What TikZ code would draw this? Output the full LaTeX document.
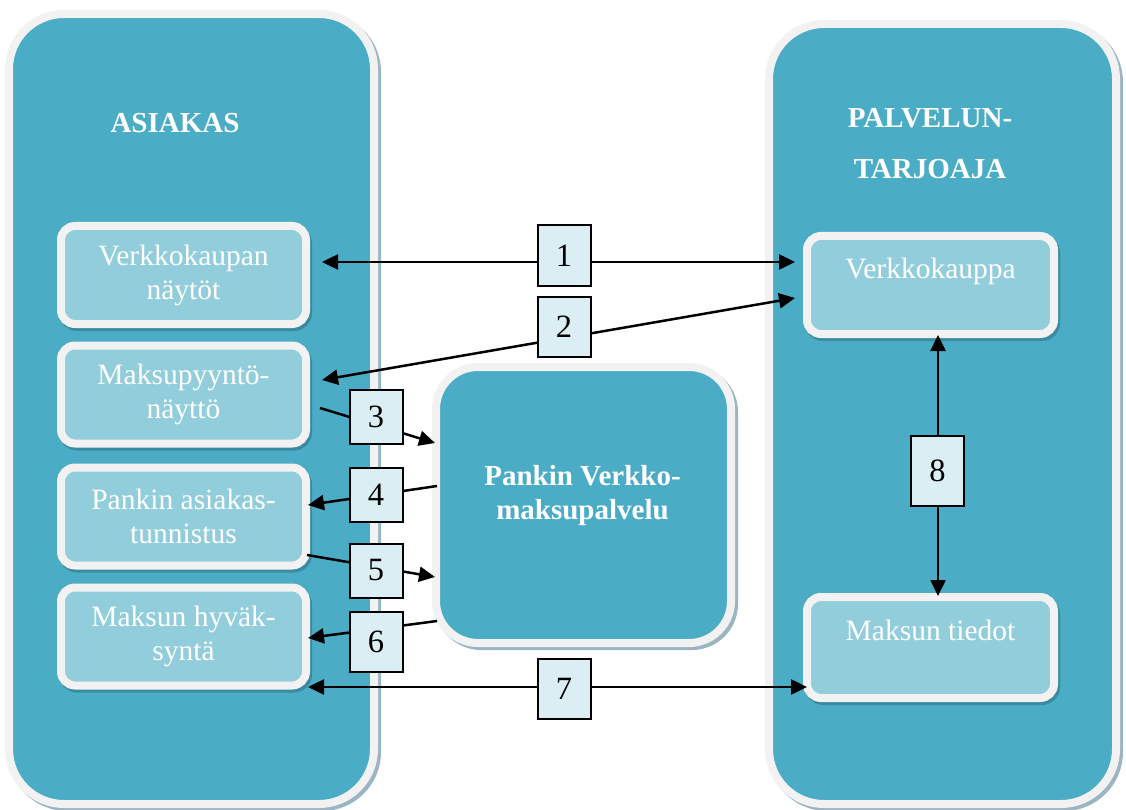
\documentclass[tikz,border=0pt]{standalone}
\usepackage{fontspec}
\setmainfont{Liberation Serif}
\usetikzlibrary{arrows.meta,shadows}
\definecolor{panelblue}{HTML}{4BACC6}
\definecolor{lightbox}{HTML}{92CDDC}
\definecolor{rimwhite}{HTML}{F2F2F2}
\definecolor{numfill}{HTML}{DAEEF3}
\definecolor{panelshadow}{HTML}{9BB6C2}
\definecolor{boxshadow}{HTML}{3A8BA1}
\tikzset{
  panel/.style={rectangle, rounded corners=55pt, fill=panelblue, draw=rimwhite,
    line width=8pt, inner sep=0pt, outer sep=0pt,
    drop shadow={shadow xshift=3pt, shadow yshift=-3pt, fill=panelshadow,
      draw=panelshadow, line width=8pt, opacity=1}},
  bankbox/.style={rectangle, rounded corners=42pt, fill=panelblue, draw=rimwhite,
    line width=8pt, inner sep=0pt, outer sep=0pt,
    minimum width=295pt, minimum height=276pt,
    drop shadow={shadow xshift=3pt, shadow yshift=-3pt, fill=panelshadow,
      draw=panelshadow, line width=8pt, opacity=1}},
  ibox/.style={rectangle, rounded corners=14pt, fill=lightbox, draw=rimwhite,
    line width=8pt, minimum width=245pt, minimum height=98pt, inner sep=0pt,
    outer sep=0pt, align=center, text=white, font=\fontsize{29.5}{34}\selectfont,
    drop shadow={shadow xshift=2pt, shadow yshift=-3pt, fill=boxshadow,
      draw=boxshadow, line width=8pt, opacity=1}},
  title/.style={text=white, inner sep=0pt, font=\bfseries\fontsize{29}{34}\selectfont},
  numbox/.style={rectangle, fill=numfill, draw=black, line width=2pt,
    minimum width=53pt, minimum height=60pt, inner sep=0pt,
    font=\fontsize{32.5}{32}\selectfont},
  conn/.style={draw=black, line width=2.5pt},
  >={Triangle[length=16pt,width=15pt]}
}
\begin{document}
\begin{tikzpicture}[x=1pt,y=-1pt]
\useasboundingbox (0,0) rectangle (1126,810);
% panels
\node[panel, minimum width=365pt, minimum height=790pt] (asiakas) at (191.5,409) {};
\node[panel, minimum width=347pt, minimum height=780pt] (palvelu) at (942.5,414) {};
\node[title, anchor=base] (tA) at (175,133) {ASIAKAS};
\node[title, align=center, anchor=north, font=\bfseries\fontsize{29}{51}\selectfont] (tP) at (930,108) {PALVELUN-\\TARJOAJA};
% inner boxes
\node[ibox] (v1) at (183.5,275) {Verkkokaupan\\näytöt};
\node[ibox] (v2) at (183.5,394.5) {Maksupyyntö-\\näyttö};
\node[ibox] (v3) at (183.5,516.5) {Pankin asiakas-\\tunnistus};
\node[ibox] (v4) at (183.5,636.5) {Maksun hyväk-\\syntä};
\node[ibox, minimum width=247pt] (r1) at (930.5,285) {Verkkokauppa\\\phantom{x}};
\node[ibox, minimum width=247pt, minimum height=101pt] (r2) at (930.5,647.5) {Maksun tiedot\\\phantom{x}};
% bank
\node[bankbox] (bank) at (583.5,505) {};
\node[title, align=center, anchor=north] (bankT) at (582.5,465) {Pankin Verkko-\\maksupalvelu};
% connector ends
\coordinate (a1l) at ([shift={(16,-13)}]v1.east);
\coordinate (a1r) at ([shift={(-12,-23)}]r1.west);
\coordinate (a2r) at ([shift={(-12,13)}]r1.west);
\coordinate (a2l) at ([shift={(16,-14.5)}]v2.east);
\coordinate (a3s) at ([shift={(14,13.5)}]v2.east);
\coordinate (a3e) at ([shift={(-1,-62)}]bank.west);
\coordinate (a4s) at ([shift={(1,-19)}]bank.west);
\coordinate (a4e) at ([shift={(2,-11.5)}]v3.east);
\coordinate (a5s) at ([shift={(1,38.5)}]v3.east);
\coordinate (a5e) at ([shift={(-1,72)}]bank.west);
\coordinate (a6s) at ([shift={(1,116)}]bank.west);
\coordinate (a6e) at ([shift={(2,1.5)}]v4.east);
\coordinate (a7l) at ([shift={(2,50.5)}]v4.east);
\coordinate (a7r) at ([shift={(0,39.5)}]r2.west);
\coordinate (a8t) at ([shift={(7.5,1)}]r1.south);
\coordinate (a8b) at ([shift={(7.5,-1)}]r2.north);
% connectors
\draw[conn,<->] (a1l) -- (a1r);
\draw[conn,<->] (a2l) -- (a2r);
\draw[conn,->] (a3s) -- (a3e);
\draw[conn,->] (a4s) -- (a4e);
\draw[conn,->] (a5s) -- (a5e);
\draw[conn,->] (a6s) -- (a6e);
\draw[conn,<->] (a7l) -- (a7r);
\draw[conn,<->] (a8t) -- (a8b);
% number boxes
\node[numbox] (n1) at (564,255.5) {1};
\node[numbox] (n2) at (564,326.5) {2};
\node[numbox, minimum height=54pt] (n3) at (376,416.5) {3};
\node[numbox, minimum height=54pt] (n4) at (376,494.5) {4};
\node[numbox, minimum height=54pt] (n5) at (376,570.5) {5};
\node[numbox] (n6) at (376,641.5) {6};
\node[numbox] (n7) at (564,689) {7};
\node[numbox, minimum height=70pt] (n8) at (937.5,470.5) {8};
\end{tikzpicture}
\end{document}
